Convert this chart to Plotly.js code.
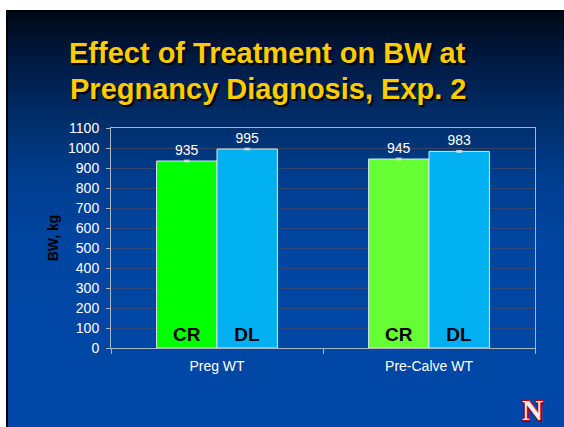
<!DOCTYPE html>
<html>
<head>
<meta charset="utf-8">
<script src="https://cdn.plot.ly/plotly-3.0.1.min.js"></script>
<style>
  html, body { margin: 0; padding: 0; background: #ffffff; }
  #slide {
    position: absolute; left: 6px; top: 10px; width: 556px; height: 416px;
    border-left: 2px solid #000; border-top: 1px solid #000;
    background: linear-gradient(to bottom, #000816 0%, #001a44 12%, #00306e 28%, #003d8e 40%, #0045a0 55%, #0047a8 100%);
  }
  #chart { position: absolute; left: 0; top: 0; width: 564px; height: 427px; }
</style>
</head>
<body>
<div id="slide"></div>
<div id="chart"></div>
<script>
  const categories = ['Preg WT', 'Pre-Calve WT'];
  const crValues = [935, 945];
  const dlValues = [995, 983];
  const crErrors = [4, 4];
  const dlErrors = [4, 4];
  const crColors = ['#00ff00', '#66ff33'];
  const dlColors = ['#00b0f0', '#00b0f0'];
  const groupLabels = ['CR', 'DL'];

  const barLine = { color: '#d8e8f0', width: 1 };
  const valueFont = { family: 'Liberation Sans, Arial, sans-serif', size: 14, color: '#ffffff' };
  const labelFont = { family: 'Liberation Sans, Arial, sans-serif', size: 19, color: '#000000', weight: 'bold' };

  const cr = {
    x: categories, y: crValues, type: 'bar', name: 'CR', offsetgroup: 'cr',
    marker: { color: crColors, line: barLine },
    error_y: { type: 'data', array: crErrors, color: '#e0e0e0', thickness: 1, width: 3 },
    text: crValues.map(String), textposition: 'outside', textfont: valueFont, cliponaxis: false
  };
  const dl = {
    x: categories, y: dlValues, type: 'bar', name: 'DL', offsetgroup: 'dl',
    marker: { color: dlColors, line: barLine },
    error_y: { type: 'data', array: dlErrors, color: '#e0e0e0', thickness: 1, width: 3 },
    text: dlValues.map(String), textposition: 'outside', textfont: valueFont, cliponaxis: false
  };
  // transparent twins carry the CR / DL names at the foot of each bar
  const crName = {
    x: categories, y: crValues, type: 'bar', offsetgroup: 'cr', hoverinfo: 'skip',
    marker: { color: 'rgba(0,0,0,0)' },
    text: categories.map(() => groupLabels[0]), textposition: 'inside',
    insidetextanchor: 'start', textangle: 0, textfont: labelFont
  };
  const dlName = {
    x: categories, y: dlValues, type: 'bar', offsetgroup: 'dl', hoverinfo: 'skip',
    marker: { color: 'rgba(0,0,0,0)' },
    text: categories.map(() => groupLabels[1]), textposition: 'inside',
    insidetextanchor: 'start', textangle: 0, textfont: labelFont
  };

  const titleFont = {
    family: 'Liberation Sans, Arial, sans-serif', size: 29, color: '#ffcc00', weight: 'bold',
    shadow: '2px 2px 1px #000000'
  };

  const layout = {
    width: 564,
    height: 427,
    margin: { l: 111, r: 29, t: 128, b: 79 },
    paper_bgcolor: 'rgba(0,0,0,0)',
    plot_bgcolor: 'rgba(0,0,0,0)',
    showlegend: false,
    barmode: 'group',
    bargap: 0.43,
    bargroupgap: 0,
    font: { family: 'Liberation Sans, Arial, sans-serif', size: 14, color: '#ffffff' },
    xaxis: {
      type: 'category',
      showline: true, mirror: true, linecolor: '#a8b4c8', linewidth: 1,
      ticks: 'outside', tickson: 'boundaries', ticklen: 5, tickcolor: '#a8b4c8',
      ticklabelstandoff: 5,
      tickfont: { size: 14, color: '#ffffff' },
      showgrid: false
    },
    yaxis: {
      range: [0, 1100], dtick: 100,
      showline: true, mirror: true, linecolor: '#a8b4c8', linewidth: 1,
      ticks: 'outside', ticklen: 4, tickcolor: '#a8b4c8',
      ticklabelstandoff: 4,
      tickfont: { size: 14, color: '#ffffff' },
      gridcolor: 'rgba(60,72,105,0.8)', gridwidth: 1,
      zeroline: false,
      title: { text: 'BW, kg', standoff: 6, font: { size: 14, color: '#000000', weight: 'bold' } }
    },
    annotations: [
      { text: 'Effect of Treatment on BW at', xref: 'paper', yref: 'paper', x: 0.37, y: 1.341,
        xanchor: 'center', yanchor: 'middle', showarrow: false, font: titleFont },
      { text: 'Pregnancy Diagnosis, Exp. 2', xref: 'paper', yref: 'paper', x: 0.37, y: 1.177,
        xanchor: 'center', yanchor: 'middle', showarrow: false, font: titleFont },
      { text: 'N', xref: 'paper', yref: 'paper', x: 0.995, y: -0.28,
        xanchor: 'center', yanchor: 'middle', showarrow: false,
        font: { family: 'Liberation Serif, serif', size: 29, color: '#f8eeee', weight: 'bold',
          shadow: '1px 0 0 #cc0000, -1px 0 0 #cc0000, 0 1px 0 #cc0000, 0 -1px 0 #cc0000, 2px 2px 0 #800000' } }
    ]
  };

  Plotly.newPlot('chart', [cr, dl, crName, dlName], layout, { displayModeBar: false, staticPlot: true });
</script>
</body>
</html>
